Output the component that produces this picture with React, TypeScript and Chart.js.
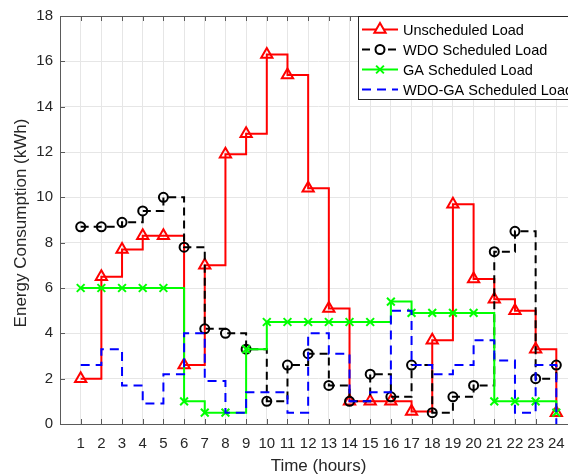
import { useEffect, useRef } from 'react';
import { Chart, registerables } from 'chart.js';

Chart.register(...registerables);

// Hour of day (x) and the four load profiles in kWh
const hours = [1, 2, 3, 4, 5, 6, 7, 8, 9, 10, 11, 12, 13, 14, 15, 16, 17, 18, 19, 20, 21, 22, 23, 24];
const unscheduledLoad = [2.0, 6.5, 7.7, 8.3, 8.3, 2.6, 7.0, 11.9, 12.8, 16.3, 15.4, 10.4, 5.1, 1.0, 1.0, 1.0, 0.55, 3.7, 9.7, 6.4, 5.5, 5.0, 3.3, 0.5];
const wdoLoad = [8.7, 8.7, 8.9, 9.4, 10.0, 7.8, 4.2, 4.0, 3.3, 1.0, 2.6, 3.1, 1.7, 1.0, 2.2, 1.2, 2.6, 0.5, 1.2, 1.7, 7.6, 8.5, 2.0, 2.6];
const gaLoad = [6.0, 6.0, 6.0, 6.0, 6.0, 1.0, 0.5, 0.5, 3.3, 4.5, 4.5, 4.5, 4.5, 4.5, 4.5, 5.4, 4.9, 4.9, 4.9, 4.9, 1.0, 1.0, 1.0, 0.5];
const wdoGaLoad = [2.6, 3.3, 1.7, 0.9, 2.2, 4.0, 1.9, 0.5, 1.4, 1.4, 0.5, 4.0, 3.1, 1.0, 1.4, 5.0, 2.6, 2.2, 2.6, 3.7, 2.8, 0.5, 2.6, 0.0];
const yTicks = [0, 2, 4, 6, 8, 10, 12, 14, 16, 18];

const seriesNames = ['Unscheduled Load', 'WDO Scheduled Load', 'GA Scheduled Load', 'WDO-GA Scheduled Load'];
const xTitle = 'Time (hours)';
const yTitle = 'Energy Consumption (kWh)';

const FONT = '"Liberation Sans", Arial, Helvetica, sans-serif';
const TEXT = '#262626';

const toPoints = (vals: number[]) => hours.map((h, i) => ({ x: h, y: vals[i] }));

// Draws the axes box, inward tick marks, axis titles and the boxed legend
const decorations = {
  id: 'decorations',
  beforeDatasetsDraw(chart: any) {
    const { ctx, chartArea: a, scales } = chart;
    ctx.save();
    ctx.strokeStyle = '#5a5a5a';
    ctx.lineWidth = 1;
    ctx.beginPath();
    const tl = 5;
    for (const h of hours) {
      const x = Math.round(scales.x.getPixelForValue(h)) + 0.5;
      ctx.moveTo(x, a.bottom);
      ctx.lineTo(x, a.bottom - tl);
      ctx.moveTo(x, a.top);
      ctx.lineTo(x, a.top + tl);
    }
    for (const v of yTicks) {
      const y = Math.round(scales.y.getPixelForValue(v)) + 0.5;
      ctx.moveTo(a.left, y);
      ctx.lineTo(a.left + tl, y);
      ctx.moveTo(a.right, y);
      ctx.lineTo(a.right - tl, y);
    }
    ctx.stroke();
    ctx.strokeRect(Math.round(a.left) + 0.5, Math.round(a.top) + 0.5, Math.round(a.right - a.left), Math.round(a.bottom - a.top));
    ctx.restore();
  },
  afterDatasetsDraw(chart: any) {
    const { ctx, chartArea: a } = chart;
    ctx.save();
    // legend box
    const bx = 358.5;
    const by = a.top + 0.5;
    const bw = 230;
    const bh = 83;
    ctx.fillStyle = '#ffffff';
    ctx.fillRect(bx, by, bw, bh);
    ctx.strokeStyle = '#262626';
    ctx.lineWidth = 1;
    ctx.strokeRect(bx, by, bw, bh);

    const rows = [29.5, 49.5, 69.5, 89.5];
    const x0 = 362;
    const x1 = 398;
    const mx = 380;
    chart.data.datasets.forEach((ds: any, i: number) => {
      const y = rows[i];
      ctx.save();
      ctx.strokeStyle = ds.borderColor;
      ctx.lineWidth = ds.borderWidth;
      ctx.setLineDash(ds.borderDash || []);
      ctx.beginPath();
      ctx.moveTo(x0, y);
      ctx.lineTo(x1, y);
      ctx.stroke();
      ctx.setLineDash([]);
      if (ds.pointRadius > 0) {
        ctx.lineWidth = ds.pointBorderWidth;
        ctx.strokeStyle = ds.pointBorderColor;
        ctx.fillStyle = '#ffffff';
        const r = ds.pointRadius;
        ctx.beginPath();
        if (ds.pointStyle === 'triangle') {
          ctx.moveTo(mx, y - r);
          ctx.lineTo(mx + r * Math.sin(Math.PI * 2 / 3), y + r / 2);
          ctx.lineTo(mx - r * Math.sin(Math.PI * 2 / 3), y + r / 2);
          ctx.closePath();
          ctx.fill();
        } else if (ds.pointStyle === 'circle') {
          ctx.arc(mx, y, r, 0, Math.PI * 2);
          ctx.fill();
        } else {
          const d = r * Math.SQRT1_2;
          ctx.moveTo(mx - d, y - d);
          ctx.lineTo(mx + d, y + d);
          ctx.moveTo(mx + d, y - d);
          ctx.lineTo(mx - d, y + d);
        }
        ctx.stroke();
      }
      ctx.restore();
      ctx.fillStyle = '#000000';
      ctx.font = `14.5px ${FONT}`;
      ctx.textAlign = 'left';
      ctx.textBaseline = 'middle';
      ctx.fillText(seriesNames[i], 403, y + 1);
    });

    // axis titles
    ctx.fillStyle = TEXT;
    ctx.font = `17px ${FONT}`;
    ctx.textAlign = 'center';
    ctx.textBaseline = 'alphabetic';
    ctx.fillText(xTitle, (a.left + a.right) / 2, 471);
    ctx.translate(26, (a.top + a.bottom) / 2 + 3);
    ctx.rotate(-Math.PI / 2);
    ctx.fillText(yTitle, 0, 0);
    ctx.restore();
  },
};

export default function App() {
  const canvasRef = useRef<HTMLCanvasElement | null>(null);

  useEffect(() => {
    const canvas = canvasRef.current;
    if (!canvas) return;
    const chart = new Chart(canvas, {
      type: 'line',
      data: {
        datasets: [
          {
            label: seriesNames[0],
            data: toPoints(unscheduledLoad),
            borderColor: '#ff0000',
            borderWidth: 2,
            stepped: 'before',
            pointStyle: 'triangle',
            pointRadius: 6.5,
            pointBorderWidth: 2,
            pointBorderColor: '#ff0000',
            pointBackgroundColor: 'rgba(255,255,255,0)',
            fill: false,
            order: 4,
          },
          {
            label: seriesNames[1],
            data: toPoints(wdoLoad),
            borderColor: '#000000',
            borderWidth: 2,
            borderDash: [8, 5],
            stepped: 'before',
            pointStyle: 'circle',
            pointRadius: 4.5,
            pointBorderWidth: 2,
            pointBorderColor: '#000000',
            pointBackgroundColor: 'rgba(255,255,255,0)',
            fill: false,
            order: 3,
          },
          {
            label: seriesNames[2],
            data: toPoints(gaLoad),
            borderColor: '#00ff00',
            borderWidth: 2,
            stepped: 'before',
            pointStyle: 'crossRot',
            pointRadius: 5.5,
            pointBorderWidth: 2,
            pointBorderColor: '#00ff00',
            fill: false,
            order: 2,
          },
          {
            label: seriesNames[3],
            data: toPoints(wdoGaLoad),
            borderColor: '#0000ff',
            borderWidth: 2,
            borderDash: [9, 6],
            stepped: 'before',
            pointRadius: 0,
            fill: false,
            order: 1,
          },
        ],
      },
      options: {
        animation: false,
        responsive: false,
        devicePixelRatio: 1,
        layout: { padding: { left: 0, top: 16, right: 23, bottom: 0 } },
        plugins: {
          legend: { display: false },
          tooltip: { enabled: false },
        },
        scales: {
          x: {
            type: 'linear',
            min: 0,
            max: 25,
            afterBuildTicks: (s: any) => {
              s.ticks = hours.map((v) => ({ value: v }));
            },
            afterFit: (s: any) => {
              s.height = 51;
            },
            grid: { color: '#e6e6e6', drawTicks: false },
            border: { display: false },
            ticks: {
              autoSkip: false,
              maxRotation: 0,
              padding: 11,
              color: TEXT,
              font: { family: FONT, size: 15 },
            },
          },
          y: {
            type: 'linear',
            min: 0,
            max: 18,
            afterBuildTicks: (s: any) => {
              s.ticks = yTicks.map((v) => ({ value: v }));
            },
            afterFit: (s: any) => {
              s.width = 60;
            },
            grid: { color: '#e6e6e6', drawTicks: false },
            border: { display: false },
            ticks: {
              padding: 7,
              color: TEXT,
              font: { family: FONT, size: 15 },
            },
          },
        },
      },
      plugins: [decorations],
    } as any);
    return () => chart.destroy();
  }, []);

  return (
    <div style={{ position: 'fixed', left: 0, top: 0, width: 568, height: 475, overflow: 'hidden', background: '#ffffff' }}>
      <canvas ref={canvasRef} width={600} height={475} style={{ display: 'block' }} />
    </div>
  );
}
